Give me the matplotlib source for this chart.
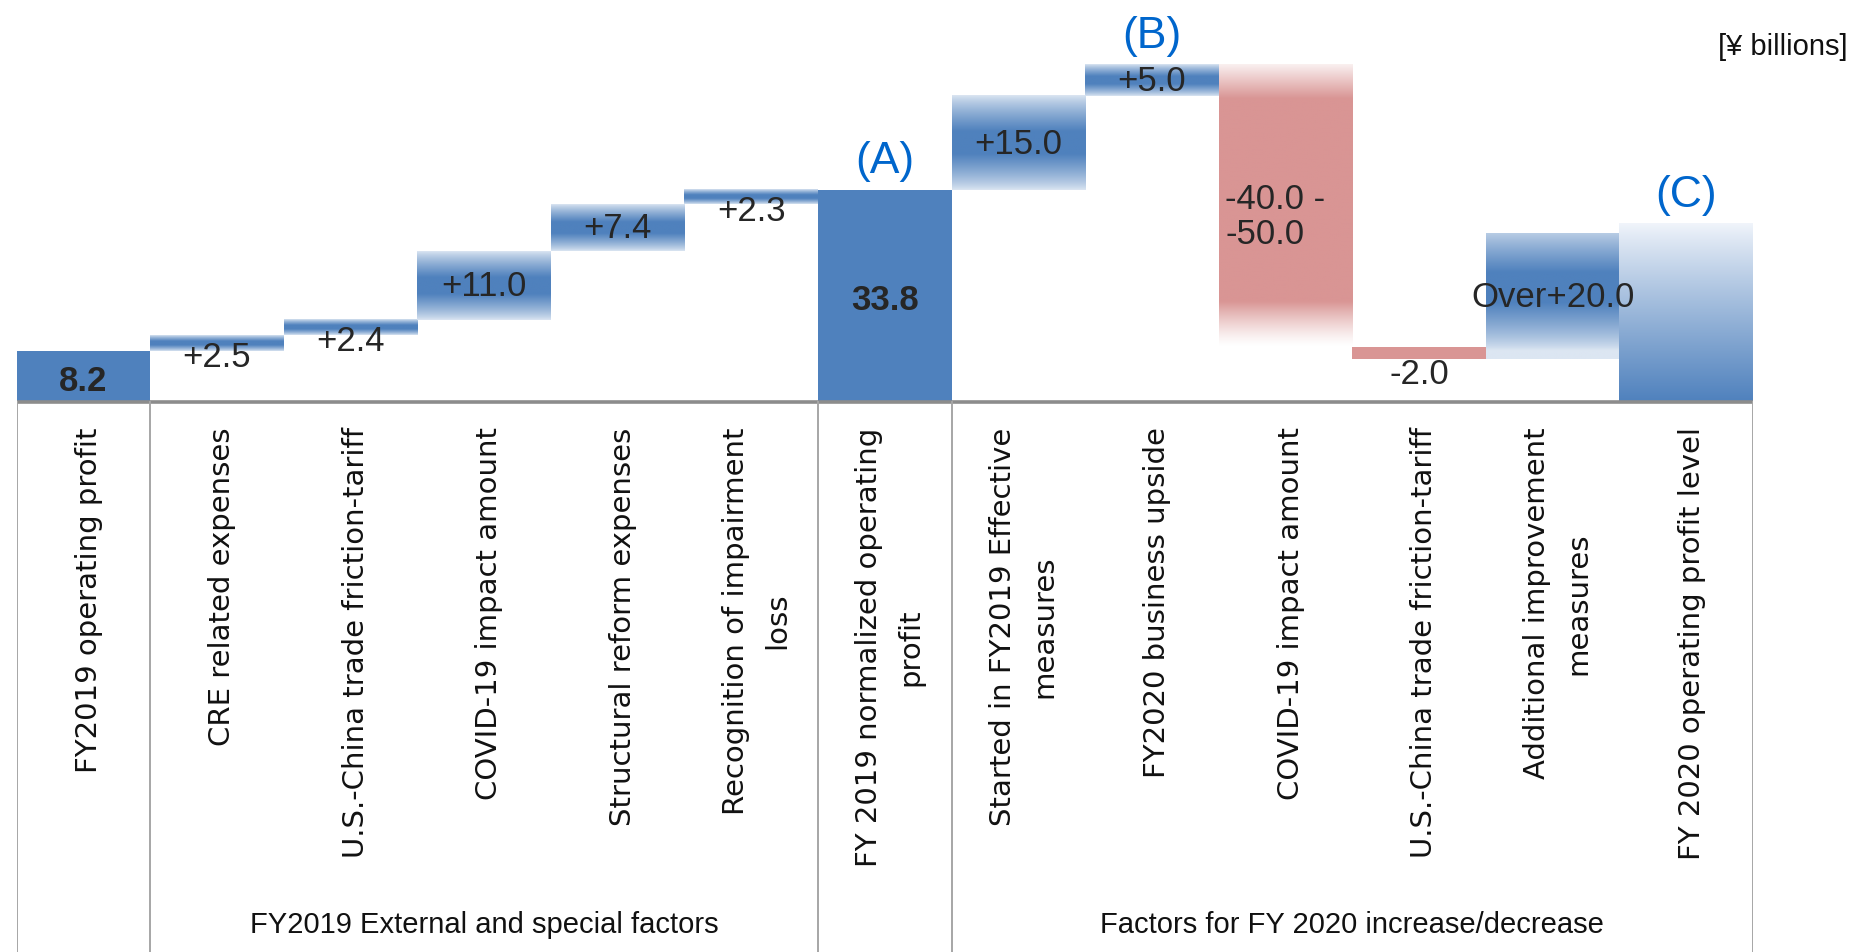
import numpy as np
import matplotlib.pyplot as plt

# waterfall data, ¥ billions
categories = [
    "FY2019 operating profit",
    "CRE related expenses",
    "U.S.-China trade friction-tariff",
    "COVID-19 impact amount",
    "Structural reform expenses",
    "Recognition of impairment\nloss",
    "FY 2019 normalized operating\nprofit",
    "Started in FY2019 Effective\nmeasures",
    "FY2020 business upside",
    "COVID-19 impact amount",
    "U.S.-China trade friction-tariff",
    "Additional improvement\nmeasures",
    "FY 2020 operating profit level",
]
values = [8.2, 2.5, 2.4, 11.0, 7.4, 2.3, 33.8, 15.0, 5.0, -45.0, -2.0, 20.0, 28.4]
kinds = ["total", "up", "up", "up", "up", "up", "total",
         "up", "up", "range_down", "down", "up", "total_grad"]
value_labels = ["8.2", "+2.5", "+2.4", "+11.0", "+7.4", "+2.3", "33.8",
                "+15.0", "+5.0", "-40.0 -\n-50.0", "-2.0", "Over+20.0", ""]
label_pos = ["in", "below", "below", "in", "in", "below", "in",
             "in", "in", "left", "below", "in", ""]
markers = {6: "(A)", 8: "(B)", 12: "(C)"}
groups = [("FY2019 External and special factors", 1, 5),
          ("Factors for FY 2020 increase/decrease", 7, 12)]

BLUE = np.array([79, 129, 189]) / 255
LIGHT = np.array([220, 230, 242]) / 255
PALE = np.array([241, 245, 251]) / 255
RED = np.array([217, 149, 148]) / 255
WHITE = np.array([1.0, 1.0, 1.0])

fig = plt.figure(figsize=(18.52, 9.53), dpi=100)
ax = fig.add_axes([16.5 / 1852, 0, (1753 - 16.5) / 1852, 1])

px_per_unit = 6.27
y_top = 403 / px_per_unit
y_bot = -(953 - 403) / px_per_unit


def band(n, center=0.5, flat=0.12):
    t = np.linspace(0, 1, n)
    d = 1 - (np.abs(t - center) - flat) / (0.5 - flat)
    return np.clip(d, 0, 1) ** 0.8


def draw_grad(x0, x1, y0, y1, weights, c0, c1):
    cols = c0[None, :] + (c1 - c0)[None, :] * weights[:, None]
    img = cols[:, None, :]
    ax.imshow(img, extent=(x0, x1, y0, y1), origin="upper", aspect="auto",
              interpolation="bilinear", zorder=2)


# bars
running = 0.0
bars = []
for i, (v, k) in enumerate(zip(values, kinds)):
    if k.startswith("total"):
        lo, hi = 0.0, v
        running = v
    else:
        lo, hi = sorted([running, running + v])
        running += v
    bars.append((lo, hi))
    x0, x1 = i - 0.5, i + 0.5
    n = 200
    if k == "total":
        ax.bar(i, hi - lo, bottom=lo, width=1.0, color=BLUE, zorder=2)
    elif k == "total_grad":
        draw_grad(x0, x1, lo, hi, np.linspace(0, 1, n) ** 0.9, PALE, BLUE)
    elif k == "up":
        c = 0.43 if v >= 20 else 0.5
        draw_grad(x0, x1, lo, hi, band(n, center=c), LIGHT, BLUE)
    elif k == "range_down":
        t = np.linspace(0, 1, n)
        w = np.clip(t / 0.12, 0, 1) * 0.85 + 0.15
        w = np.where(t < 0.12, w, 1.0)
        w = np.where(t > 0.84, np.clip((1.0 - t) / 0.16, 0, 1) ** 1.3, w)
        draw_grad(x0, x1, lo, hi, w, WHITE, RED)
    elif k == "down":
        ax.bar(i, hi - lo, bottom=lo, width=1.0, color=RED, zorder=2)

# value labels
for i, (txt, pos) in enumerate(zip(value_labels, label_pos)):
    if not txt:
        continue
    lo, hi = bars[i]
    bold = kinds[i] == "total"
    kw = dict(fontsize=25, color="#262626", zorder=5,
              family=["Liberation Sans", "DejaVu Sans"],
              fontweight="bold" if bold else "normal")
    if pos == "in":
        y = (lo + hi) / 2 - (0.6 if bold else 0)
        ax.text(i, y, txt, ha="center", va="center", **kw)
    elif pos == "below":
        y = lo - (2.3 if values[i] < 0 else 0.9)
        ax.text(i, y, txt, ha="center", va="center", **kw)
    elif pos == "left":
        ax.text(i - 0.45, hi - 24.2, txt, ha="left", va="center",
                linespacing=1.08, **kw)

# (A) (B) (C)
for i, m in markers.items():
    ax.text(i, bars[i][1] + 4.7, m, ha="center", va="center", fontsize=32,
            color="#0066cc", family=["Liberation Sans", "DejaVu Sans"], zorder=5)

# table below the axis
ax.plot([-0.5, len(values) - 0.5], [0, 0], color="#8c8c8c", lw=2.6,
        solid_capstyle="butt", zorder=4)
for b in [-0.5, 0.5, 5.5, 6.5, len(values) - 0.5]:
    ax.plot([b, b], [0, y_bot], color="#a6a6a6", lw=1.4, zorder=4)

for i, lab in enumerate(categories):
    ax.text(i + 0.04, -3.9, lab, rotation=90, ha="center", va="top",
            multialignment="center", fontsize=21, linespacing=1.6,
            color="#111111", family="DejaVu Sans")

for name, a, b in groups:
    ax.text((a + b) / 2, -83.2, name, ha="center", va="center", fontsize=21,
            color="#111111", family=["Liberation Sans", "DejaVu Sans"])

fig.text(1848 / 1852, 1 - 47 / 953, "[¥ billions]", ha="right", va="center",
         fontsize=21, color="#111111", family=["Liberation Sans", "DejaVu Sans"])

ax.set_xlim(-0.5, len(values) - 0.5)
ax.set_ylim(y_bot, y_top)
ax.axis("off")

plt.savefig("out.png", dpi=100)
